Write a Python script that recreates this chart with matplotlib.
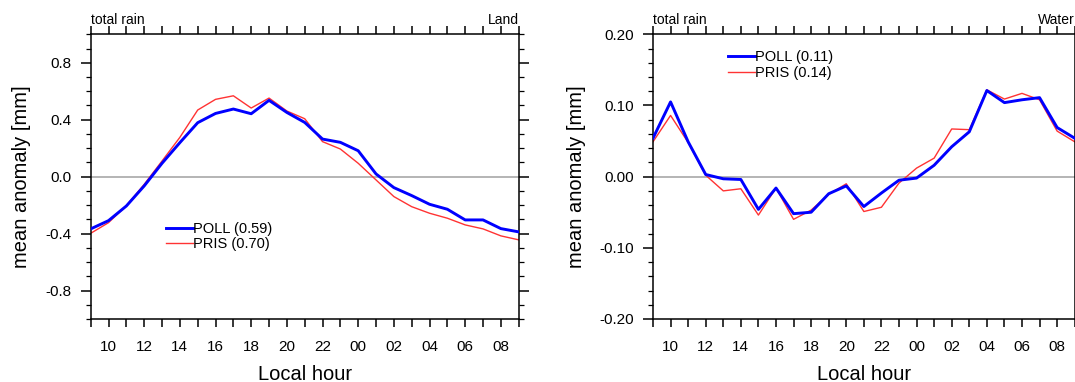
import numpy as np
import matplotlib
matplotlib.use("Agg")
import matplotlib.pyplot as plt
from matplotlib.ticker import FixedLocator, MultipleLocator, FixedFormatter

plt.rcParams['font.family'] = ['Liberation Sans', 'DejaVu Sans']

# local hour 09 .. 09 next day
hours = list(range(9, 34))
hour_labels = ["%02d" % (h % 24) if h % 2 == 0 else "" for h in hours]

land_poll = [-0.367, -0.309, -0.206, -0.065, 0.094, 0.239, 0.379, 0.444, 0.475,
             0.442, 0.536, 0.451, 0.381, 0.264, 0.241, 0.182, 0.019, -0.077,
             -0.133, -0.194, -0.229, -0.304, -0.304, -0.365, -0.388]
land_pris = [-0.398, -0.323, -0.204, -0.054, 0.110, 0.276, 0.468, 0.543, 0.568,
             0.482, 0.552, 0.461, 0.407, 0.246, 0.194, 0.094, -0.023, -0.140,
             -0.211, -0.257, -0.292, -0.339, -0.367, -0.416, -0.444]

water_poll = [0.054, 0.105, 0.049, 0.003, -0.003, -0.004, -0.046, -0.016, -0.052,
              -0.050, -0.024, -0.013, -0.042, -0.023, -0.005, -0.002, 0.016, 0.042,
              0.063, 0.121, 0.104, 0.108, 0.111, 0.069, 0.054]
water_pris = [0.049, 0.086, 0.048, 0.002, -0.020, -0.017, -0.054, -0.016, -0.060,
              -0.047, -0.025, -0.010, -0.049, -0.043, -0.009, 0.012, 0.026, 0.067,
              0.066, 0.122, 0.109, 0.117, 0.108, 0.064, 0.049]

land_labels = ["POLL (0.59)", "PRIS (0.70)"]
water_labels = ["POLL (0.11)", "PRIS (0.14)"]

W, H = 1075, 382
fig = plt.figure(figsize=(W / 100, H / 100), dpi=100)

ax_bottom = 1 - 319 / H
ax_height = 284.7 / H
ax1 = fig.add_axes([90.7 / W, ax_bottom, 428 / W, ax_height])
ax2 = fig.add_axes([653 / W, ax_bottom, 421.7 / W, ax_height])

BLUE = "#0000ff"
RED = "#ff3333"


def style(ax, ylim, major, minor, fmt, region, poll, pris, labels, leg_xy, ylab_x):
    ax.axhline(0, color="#b4b4b4", lw=1.4, zorder=1)
    l1, = ax.plot(hours, poll, color=BLUE, lw=2.1, zorder=3)
    l2, = ax.plot(hours, pris, color=RED, lw=1.0, zorder=2)
    ax.set_xlim(9, 33)
    ax.set_ylim(*ylim)
    for s in ax.spines.values():
        s.set_linewidth(1.1)

    ax.xaxis.set_major_locator(FixedLocator(hours))
    ax.xaxis.set_major_formatter(FixedFormatter(hour_labels))
    ax.yaxis.set_major_locator(MultipleLocator(major))
    ax.yaxis.set_minor_locator(MultipleLocator(minor))
    ax.yaxis.set_major_formatter(plt.FuncFormatter(lambda v, p: fmt % v if abs(v) > 1e-9 else fmt % 0))

    ax.tick_params(axis="x", which="major", direction="out", length=5.8, width=1.1,
                   top=True, labeltop=False, labelsize=11, pad=9.5)
    ax.tick_params(axis="y", which="major", direction="out", length=7, width=1.1,
                   right=True, labelsize=11, pad=7)
    ax.tick_params(axis="y", which="minor", direction="out", length=3.6, width=0.9,
                   right=True)

    ax.set_xlabel("Local hour", fontsize=14.5)
    ax.xaxis.set_label_coords(0.5, -0.16)
    ax.set_ylabel("mean anomaly [mm]", fontsize=14.5)
    ax.yaxis.set_label_coords(ylab_x, 0.5)

    ax.text(0, 1 + 10 / 284.7, "total rain", transform=ax.transAxes,
            ha="left", va="baseline", fontsize=10)
    ax.text(1, 1 + 10 / 284.7, region, transform=ax.transAxes,
            ha="right", va="baseline", fontsize=10)

    ax.legend([l1, l2], labels, loc="center left", bbox_to_anchor=leg_xy,
              frameon=False, fontsize=10.5, handlelength=1.9, handletextpad=0.0,
              borderpad=0, borderaxespad=0, labelspacing=0.1)


style(ax1, (-1.0, 1.0), 0.4, 0.1, "%.1f", "Land", land_poll, land_pris,
      land_labels, (0.175, 0.29), -0.14)
style(ax2, (-0.2, 0.2), 0.1, 0.02, "%.2f", "Water", water_poll, water_pris,
      water_labels, (0.177, 0.892), -0.159)

fig.savefig("out.png", dpi=100)
